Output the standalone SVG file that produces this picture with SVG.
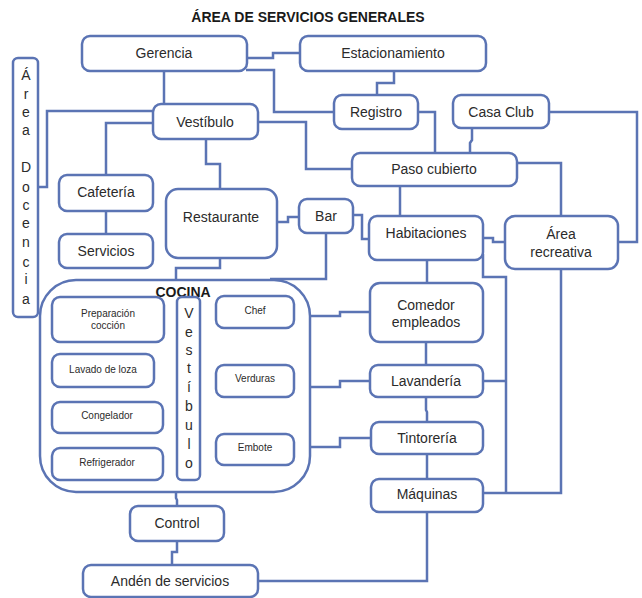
<svg xmlns="http://www.w3.org/2000/svg" width="642" height="598" viewBox="0 0 642 598">
  <style>
    .box { fill: #ffffff; stroke: #5b74b4; stroke-width: 2.5; }
    .wire { fill: none; stroke: #5b74b4; stroke-width: 2.5; stroke-linejoin: miter; }
    text { font-family: "Liberation Sans", Arial, sans-serif; fill: #2b2b2b; text-anchor: middle; }
    .lbl { font-size: 14px; }
    .sm { font-size: 10px; }
    .ttl { font-size: 14px; font-weight: bold; fill: #1a1a1a; }
  </style>
  <rect width="642" height="598" fill="#ffffff"/>

  <text class="ttl" x="308" y="22">ÁREA DE SERVICIOS GENERALES</text>

  <!-- connectors -->
  <g id="connectors">
    <path class="wire" d="M247,58 H273 V53 H300"/>
    <path class="wire" d="M246,70 H274 V112 H334"/>
    <path class="wire" d="M164,71 V104"/>
    <path class="wire" d="M394,71 V83 H377 V95"/>
    <path class="wire" d="M418,112 H435 V153"/>
    <path class="wire" d="M472,128 V140 L470,143 V153"/>
    <path class="wire" d="M549,112 H637 V242 H618"/>
    <path class="wire" d="M258,122 H306 V169 H352"/>
    <path class="wire" d="M517,163 H561 V216"/>
    <path class="wire" d="M400,186 V216"/>
    <path class="wire" d="M153,111 H47 V187 H38"/>
    <path class="wire" d="M153,123 H106 V175"/>
    <path class="wire" d="M106,211 V234"/>
    <path class="wire" d="M206,139 V164 H220 V189"/>
    <path class="wire" d="M277,222 H288 V217 H299"/>
    <path class="wire" d="M353,215 H362 V239 H369"/>
    <path class="wire" d="M483,238 H493 V242 H505"/>
    <path class="wire" d="M326,233 V279 H270"/>
    <path class="wire" d="M220,258 V268 H176 V280"/>
    <path class="wire" d="M483,254 V277 H506 V493"/>
    <path class="wire" d="M561,269 V493 H483"/>
    <path class="wire" d="M483,381 H506"/>
    <path class="wire" d="M427,260 V283"/>
    <path class="wire" d="M426,342 V365"/>
    <path class="wire" d="M426,397 V410 L427,412 V422"/>
    <path class="wire" d="M427,454 V479"/>
    <path class="wire" d="M427,512 V581 H258"/>
    <path class="wire" d="M310,316 H340 V312 H370"/>
    <path class="wire" d="M310,387 H340 V381 H370"/>
    <path class="wire" d="M310,447 H340 V438 H371"/>
    <path class="wire" d="M176,492 V498 L177,500 V506"/>
    <path class="wire" d="M177,541 V552 H172 V565"/>
  </g>

  <g id="gerencia">
    <rect class="box" x="82" y="36" width="165" height="35" rx="8"/>
    <text class="lbl" x="164" y="58">Gerencia</text>
  </g>
  <g id="estacionamiento">
    <rect class="box" x="300" y="36" width="186" height="35" rx="8"/>
    <text class="lbl" x="393" y="58">Estacionamiento</text>
  </g>
  <g id="vestibulo">
    <rect class="box" x="153" y="104" width="105" height="35" rx="8"/>
    <text class="lbl" x="205" y="127">Vestíbulo</text>
  </g>
  <g id="registro">
    <rect class="box" x="334" y="95" width="84" height="34" rx="8"/>
    <text class="lbl" x="376" y="117">Registro</text>
  </g>
  <g id="casa-club">
    <rect class="box" x="453" y="95" width="96" height="33" rx="8"/>
    <text class="lbl" x="501" y="117">Casa Club</text>
  </g>
  <g id="paso-cubierto">
    <rect class="box" x="352" y="153" width="165" height="33" rx="8"/>
    <text class="lbl" x="434" y="174">Paso cubierto</text>
  </g>
  <g id="area-docencia">
    <rect class="box" x="13" y="58" width="25" height="259" rx="5"/>
    <text class="lbl" x="26" y="80">Á</text>
    <text class="lbl" x="26" y="99">r</text>
    <text class="lbl" x="26" y="117">e</text>
    <text class="lbl" x="26" y="135">a</text>
    <text class="lbl" x="26" y="172">D</text>
    <text class="lbl" x="26" y="192">o</text>
    <text class="lbl" x="26" y="210">c</text>
    <text class="lbl" x="26" y="228">e</text>
    <text class="lbl" x="26" y="247">n</text>
    <text class="lbl" x="26" y="267">c</text>
    <text class="lbl" x="26" y="284">i</text>
    <text class="lbl" x="26" y="304">a</text>
  </g>
  <g id="cafeteria">
    <rect class="box" x="59" y="175" width="94" height="36" rx="8"/>
    <text class="lbl" x="106" y="197">Cafetería</text>
  </g>
  <g id="servicios">
    <rect class="box" x="59" y="234" width="94" height="34" rx="8"/>
    <text class="lbl" x="106" y="256">Servicios</text>
  </g>
  <g id="restaurante">
    <rect class="box" x="166" y="189" width="111" height="69" rx="12"/>
    <text class="lbl" x="221" y="222">Restaurante</text>
  </g>
  <g id="bar">
    <rect class="box" x="299" y="199" width="54" height="34" rx="8"/>
    <text class="lbl" x="326" y="221">Bar</text>
  </g>
  <g id="habitaciones">
    <rect class="box" x="369" y="216" width="114" height="44" rx="8"/>
    <text class="lbl" x="426" y="238">Habitaciones</text>
  </g>
  <g id="area-recreativa">
    <rect class="box" x="505" y="216" width="113" height="53" rx="10"/>
    <text class="lbl" x="561" y="239">Área</text>
    <text class="lbl" x="561" y="257">recreativa</text>
  </g>

  <g id="cocina">
    <rect class="box" x="40" y="280" width="270" height="212" rx="36"/>
    <text class="ttl" x="183" y="297">COCINA</text>
    <g id="preparacion">
      <rect class="box" x="52" y="297" width="112" height="45" rx="8"/>
      <text class="sm" x="108" y="317">Preparación</text>
      <text class="sm" x="108" y="329">cocción</text>
    </g>
    <g id="lavado">
      <rect class="box" x="52" y="354" width="102" height="33" rx="8"/>
      <text class="sm" x="103" y="373">Lavado de loza</text>
    </g>
    <g id="congelador">
      <rect class="box" x="52" y="402" width="111" height="31" rx="8"/>
      <text class="sm" x="107" y="419">Congelador</text>
    </g>
    <g id="refrigerador">
      <rect class="box" x="52" y="448" width="111" height="32" rx="8"/>
      <text class="sm" x="107" y="466">Refrigerador</text>
    </g>
    <g id="vestibulo-cocina">
      <rect class="box" x="177" y="297" width="23" height="183" rx="5"/>
      <text class="lbl" x="189" y="318">V</text>
      <text class="lbl" x="189" y="337">e</text>
      <text class="lbl" x="189" y="355">s</text>
      <text class="lbl" x="189" y="373">t</text>
      <text class="lbl" x="189" y="392">í</text>
      <text class="lbl" x="189" y="411">b</text>
      <text class="lbl" x="189" y="430">u</text>
      <text class="lbl" x="189" y="449">l</text>
      <text class="lbl" x="189" y="468">o</text>
    </g>
    <g id="chef">
      <rect class="box" x="216" y="296" width="78" height="32" rx="8"/>
      <text class="sm" x="255" y="314">Chef</text>
    </g>
    <g id="verduras">
      <rect class="box" x="216" y="365" width="78" height="32" rx="8"/>
      <text class="sm" x="255" y="382">Verduras</text>
    </g>
    <g id="embote">
      <rect class="box" x="216" y="434" width="78" height="31" rx="8"/>
      <text class="sm" x="255" y="451">Embote</text>
    </g>
  </g>

  <g id="comedor">
    <rect class="box" x="370" y="283" width="113" height="59" rx="10"/>
    <text class="lbl" x="426" y="310">Comedor</text>
    <text class="lbl" x="426" y="327">empleados</text>
  </g>
  <g id="lavanderia">
    <rect class="box" x="370" y="365" width="113" height="32" rx="8"/>
    <text class="lbl" x="426" y="386">Lavandería</text>
  </g>
  <g id="tintoreria">
    <rect class="box" x="371" y="422" width="112" height="32" rx="8"/>
    <text class="lbl" x="427" y="443">Tintorería</text>
  </g>
  <g id="maquinas">
    <rect class="box" x="371" y="479" width="112" height="33" rx="8"/>
    <text class="lbl" x="427" y="499">Máquinas</text>
  </g>
  <g id="control">
    <rect class="box" x="130" y="506" width="94" height="35" rx="8"/>
    <text class="lbl" x="177" y="528">Control</text>
  </g>
  <g id="anden">
    <rect class="box" x="83" y="565" width="175" height="32" rx="8"/>
    <text class="lbl" x="170" y="586">Andén de servicios</text>
  </g>
</svg>
